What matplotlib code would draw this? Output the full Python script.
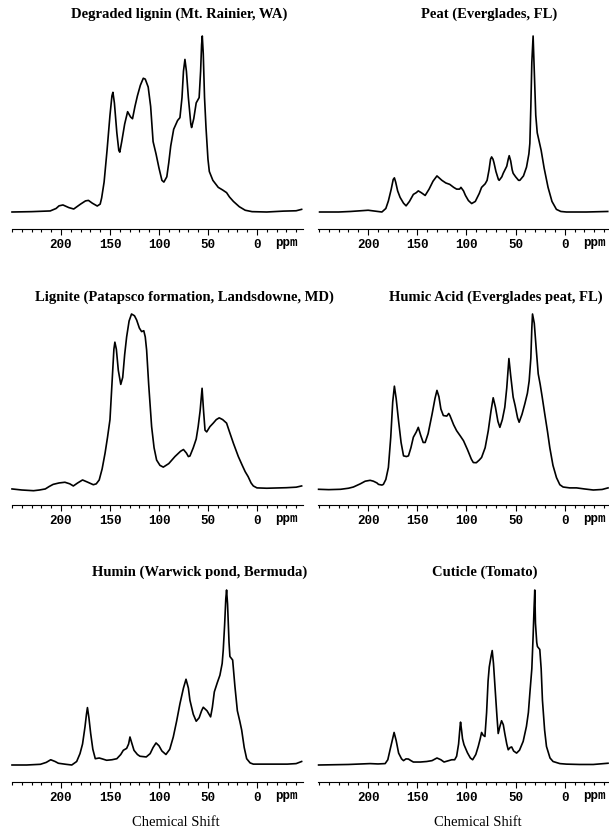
import matplotlib
matplotlib.use("Agg")
import matplotlib.pyplot as plt
from matplotlib.ticker import MultipleLocator, FixedLocator
from matplotlib.transforms import blended_transform_factory

# ---------------- data ----------------
titles = ["Degraded lignin (Mt. Rainier, WA)", "Peat (Everglades, FL)",
          "Lignite (Patapsco formation, Landsdowne, MD)", "Humic Acid (Everglades peat, FL)",
          "Humin (Warwick pond, Bermuda)", "Cuticle (Tomato)"]

tick_values = [200, 150, 100, 50, 0]
tick_labels = ["200", "150", "100", "50", "0"]
unit_label = "ppm"
xlabel_text = "Chemical Shift"

lignin_ppm = [250, 230, 211, 205, 202, 198, 192, 187, 180, 175, 172, 168, 163, 160, 158.5, 156, 153, 150,
              148, 147, 145.5, 143, 141, 140, 138, 135, 132, 129, 127, 124.5, 122, 119, 116, 114, 111,
              108.5, 106, 103, 100, 97, 95, 92, 90, 88, 85, 81, 78.6, 76.5, 75, 73.5, 72, 70, 67.5,
              66.7, 64.5, 62, 59, 57.5, 56.5, 55.8, 54.8, 53.5, 52, 50, 48.6, 45, 39.5, 35, 31, 28,
              24, 18, 12, 5, -10, -27, -40, -45.6]
lignin_int = [0, 0.2, 0.6, 2, 3.5, 4, 2.5, 1.7, 4.5, 6.3, 6.6, 5, 3.4, 4.5, 8, 17, 35, 55,
              66, 68, 62, 45, 35, 34, 40, 50, 57, 54, 53, 60, 66, 72, 76, 75.5, 71,
              60, 40, 33, 25, 18, 17, 20, 28, 37.5, 47, 52, 53.6, 65, 80, 86.7, 80, 65, 50,
              48, 53, 62, 65, 80, 95, 100, 90, 65, 48, 30, 23, 18, 14, 12.5, 11, 8.5,
              6, 3, 1, 0.2, 0, 0.5, 0.7, 1.5]

peat_ppm = [249.4, 230, 218, 205, 200, 193, 186, 182, 179.4, 176.5, 174.5, 173.3, 172, 170, 167.5, 164,
            161.4, 158, 154, 151, 149, 146, 142, 138, 134, 130, 127, 125, 121, 117, 113, 110, 107,
            105.6, 103, 101, 98, 94.7, 91, 87, 84.6, 81, 79, 77, 75.5, 74.4, 73, 72, 70, 67.5, 66.7,
            64, 62.6, 59, 57.5, 56.5, 55, 53.5, 52.5, 50, 47, 45.7, 42, 38.9, 36.5, 35.5, 34.5, 33.5,
            32.2, 31, 29.5, 28, 26, 24, 21, 17, 13, 8.5, 4, -1.7, -22, -43.7]
peat_int = [0, 0, 0.3, 0.8, 1, 0.5, 0, 2, 6.3, 13, 18.5, 19.4, 17, 12, 8.3, 5,
            3.5, 6, 10, 11, 12, 11, 9.4, 13, 17.5, 20.5, 19, 18, 16.5, 15.7, 14, 13, 13,
            14, 12, 9.4, 6.5, 4.8, 6, 10.5, 14, 16, 18, 24, 30, 31.3, 30, 28, 23, 18.5, 18,
            20, 22, 26, 30, 32, 29, 24, 22, 20, 18, 18, 20.5, 25.5, 33, 39, 60, 85,
            100, 80, 55, 45, 40, 35, 25, 14, 6, 1.5, 0.3, 0, 0, 0.3]

lignite_ppm = [250, 240, 228, 222, 216, 212, 208, 202, 196, 191, 187.4, 183, 178, 173, 167, 164, 161,
               158, 155, 152.5, 150, 148, 146, 145, 143.5, 141.5, 139, 137, 135, 133, 130.5, 128,
               125, 122.8, 120, 117.7, 115.5, 114, 112.6, 110.5, 107.5, 105, 102.4, 99, 95.6, 90,
               83.7, 78, 75, 72, 70, 68.4, 65, 62, 60, 58, 56, 54.5, 53, 51.3, 48, 44.6, 41.5, 38.5,
               35, 31, 28, 24, 21, 19, 15, 12, 9, 6, 3.7, 0, -10, -30, -40, -45.6]
lignite_int = [0.6, 0, -0.4, 0, 0.6, 2, 3.2, 4, 4.4, 3.5, 2.3, 4, 5.7, 4.5, 3, 3.5, 5.7,
               12, 21, 30, 40, 60, 80, 84, 80, 68, 60, 64, 77, 87, 96, 100,
               99, 96.6, 92, 90, 90.5, 87, 79.5, 60, 36, 24, 17, 14, 13, 15,
               19, 22, 23, 21, 19, 19.3, 24, 29, 36, 45, 57.8, 45, 34, 33, 36, 38, 40, 41,
               40, 38, 33, 26.5, 22, 19, 14, 10.4, 7.6, 4, 2.3, 1.2, 1, 1.3, 1.6, 2.3]

humic_ppm = [250.4, 240, 228, 220, 215, 208, 203, 198, 194.6, 191, 189.5, 186, 184.5, 182, 179.4, 177,
             175, 173.3, 171.5, 169, 166.5, 164, 161, 159, 156.5, 154, 151, 149, 146.5, 144, 142,
             139, 135, 132, 130, 128, 126, 123.5, 120, 118, 116.8, 113, 110, 106, 103, 99, 95, 93,
             90, 87, 84.6, 81, 77.8, 75, 72.8, 70.5, 68, 66, 63.5, 61, 59, 56.8, 55, 52.5, 50.5, 48,
             46.4, 43.5, 40.6, 38, 36.2, 34.5, 33.5, 32.8, 31, 29, 27, 25, 23, 20.3, 17.5, 15.2, 12,
             8.4, 5, 1.7, -5, -12, -20, -29, -38, -44]
humic_int = [0.4, 0.2, 0.4, 1, 1.7, 3.5, 5, 5.5, 5, 4, 3.2, 2.8, 3.2, 6, 12.8, 30,
             50, 59, 52, 39, 27, 19.4, 19, 19.4, 24, 30, 33, 35.6, 31, 27, 27,
             32, 43, 52, 56.6, 53, 46, 42.3, 42, 43.5, 42.3, 37, 33.7, 30.5, 28, 23, 17.5, 15.6,
             15.5, 17, 18.5, 24, 33.7, 45, 52.4, 47, 39, 35.6, 40, 47, 58, 74.7, 65, 52.8, 48, 41,
             38.5, 43, 49, 55, 62, 75, 92, 100, 94.7, 80, 66, 60, 53, 43, 33, 24, 14,
             7, 3, 1.7, 1.2, 1.2, 0.6, 0, 0.3, 1.2]

humin_ppm = [250, 235, 221, 215, 210.5, 206, 202.7, 195, 189, 184, 180.6, 178, 175.5, 174, 173, 171.5,
             169.7, 167.5, 165, 161, 158.5, 153.4, 148, 143, 139, 136.4, 133, 131, 129.6, 128, 125.5,
             122, 119.4, 113, 109, 106, 103, 100, 97, 92.9, 89, 85.4, 82, 78.6, 75, 72.4, 70, 68.4,
             65, 62, 59, 56.5, 54.8, 51, 47.3, 45.5, 43.5, 40.5, 37.8, 35.5, 34.4, 33, 31.8, 31, 30,
             28.5, 27.6, 24.8, 22.5, 20, 17.5, 15.6, 13, 10.5, 7, 3.7, -10, -31, -40, -45.6]
humin_int = [0, 0, 0.4, 1.5, 3, 2, 1, 0.4, 0, 2, 6.5, 12, 21.8, 29, 32.8, 27,
             18, 9, 3.6, 4, 3.6, 2.7, 3, 3.6, 6, 8.4, 9.5, 12, 16, 13, 8.4,
             6, 5, 4.6, 6.5, 10, 12.6, 11, 8, 6, 9, 16, 25, 35, 44, 49, 44, 37,
             29, 25, 27, 31, 33, 31, 27.5, 33, 41.8, 47, 51.3, 58, 65.7, 80, 95, 100, 92,
             70, 62, 60, 45, 31, 25, 20, 10, 3.6, 1.2, 0.5, 0.5, 0.5, 0.8, 2]

cuticle_ppm = [250.4, 220, 198, 190, 182.7, 180, 177.7, 175.5, 173.6, 171.5, 169, 166, 164, 161.5, 159,
               156.5, 154, 147, 140.4, 135, 130, 126, 122.8, 118, 115, 112, 110, 108, 106.5, 106, 105,
               104, 102.5, 99, 96, 93.7, 90.5, 88, 86, 84.6, 83, 81.2, 79.5, 78, 76.8, 75, 73.8, 72.5,
               71, 69, 67.7, 66, 64.3, 62.5, 61, 59, 57.5, 55.5, 54, 52, 49, 46, 42.3, 39, 37, 35.5,
               33.5, 32.2, 31.2, 30.5, 29.8, 28.5, 27.8, 25.4, 24, 22.7, 20.5, 18.6, 15, 11.9, 5,
               -1.7, -15, -29, -44]
cuticle_int = [0, 0.3, 0.8, 0.6, 0.8, 3, 8.7, 14, 18.6, 14, 6.8, 3.5, 2.5, 3.5, 3.4,
               2.5, 1.7, 1.7, 2, 2.5, 4, 3, 1.7, 2.5, 3, 3, 5, 12, 22, 24.5, 20,
               15, 11.6, 7, 4, 3, 6, 10.6, 15, 18.6, 17, 16.3, 30, 48, 56, 62, 65.4, 58,
               45, 28, 18, 22, 25.3, 23, 18, 12, 8.7, 10, 10.3, 8, 6.8, 8.5, 13.5, 22, 30, 41,
               55, 73.4, 90, 100, 81, 70, 67.7, 66, 55, 37, 20, 10.6, 4, 2, 0.8,
               0.5, 0.3, 0.3, 1]

spectra = [(lignin_ppm, lignin_int), (peat_ppm, peat_int),
           (lignite_ppm, lignite_int), (humic_ppm, humic_int),
           (humin_ppm, humin_int), (cuticle_ppm, cuticle_int)]

# ---------------- layout (pixels) ----------------
W, H = 609, 832
fig = plt.figure(figsize=(W / 100, H / 100), dpi=100)

col_left = [12, 318]
col_xlim = [(250, -47), (251, -45)]
row_base = [212, 490, 765]
row_top = [36, 314, 590]
row_axis = [229, 505, 782]
title_y = [14, 297, 572]
title_x = [[179, 489], [184, 496], [200, 485]]
xlabel_x = [176, 478]

serif = ["Liberation Serif", "DejaVu Serif"]
mono = ["Liberation Mono", "DejaVu Sans Mono"]

for i, (ppm, inten) in enumerate(spectra):
    r, c = divmod(i, 2)
    left = col_left[c]
    base, top = row_base[r], row_top[r]
    ax = fig.add_axes([left / W, 1 - base / H, 291 / W, (base - top) / H])
    ax.plot(ppm, inten, color="black", lw=1.2, clip_on=False, solid_joinstyle="round")
    ax.set_xlim(*col_xlim[c])
    ax.set_ylim(0, 100)
    ax.patch.set_visible(False)
    for s in ["top", "left", "right"]:
        ax.spines[s].set_visible(False)
    ax.spines["bottom"].set_position(("outward", (row_axis[r] - base) * 0.72))
    ax.spines["bottom"].set_linewidth(0.8)
    ax.set_yticks([])
    ax.xaxis.set_major_locator(FixedLocator(tick_values))
    ax.set_xticklabels(tick_labels, fontfamily=mono, fontweight="bold", fontsize=9)
    ax.xaxis.set_minor_locator(MultipleLocator(10))
    ax.tick_params(axis="x", which="major", length=4.5, width=0.8, pad=2.5, direction="out")
    ax.tick_params(axis="x", which="minor", length=2, width=0.8, direction="out")
    trans = blended_transform_factory(ax.transData, fig.transFigure)
    ax.text(-30, 1 - (row_axis[r] + 14) / H, unit_label, transform=trans, clip_on=False,
            fontfamily=mono, fontweight="bold", fontsize=9, ha="center", va="center")
    fig.text(title_x[r][c] / W, 1 - title_y[r] / H, titles[i], fontfamily=serif,
             fontweight="bold", fontsize=10.5, ha="center", va="center")

for xc in xlabel_x:
    fig.text(xc / W, 1 - 823 / H, xlabel_text, fontfamily=serif, fontsize=10.5,
             ha="center", va="center")

fig.savefig("out.png", dpi=100)
